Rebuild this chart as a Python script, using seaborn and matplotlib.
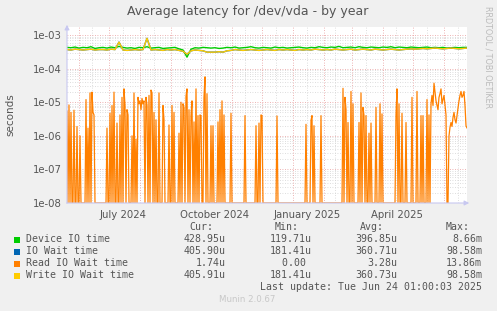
import numpy as np
import pandas as pd
import matplotlib
matplotlib.use("Agg")
import matplotlib.pyplot as plt
import matplotlib.dates as mdates
from matplotlib.patches import Rectangle
import seaborn as sns

# ---------------- data ----------------
start = pd.Timestamp("2024-05-20 01:00")
end = pd.Timestamp("2025-06-24 01:00")
n_days = 401

# device IO time / write IO wait sampled every 4 days (units 1e-4 s)
device_io = [4.3,4.2,4.4,4.1,4.3,4.2,4.5,4.0,4.2,4.3,4.1,4.4,4.2,4.6,4.3,4.1,4.2,4.0,4.3,4.2,
             4.5,4.1,4.2,4.3,4.0,4.1,4.2,4.3,3.9,3.6,2.2,3.8,4.2,4.1,4.3,4.2,4.1,4.2,4.0,4.1,
             4.3,4.2,4.4,4.1,4.2,4.3,4.5,4.2,4.1,4.3,4.2,4.1,4.4,4.2,4.3,4.1,4.2,4.3,4.4,4.2,
             4.1,4.3,4.2,4.5,4.3,4.2,4.4,4.3,4.6,4.2,4.3,4.4,4.2,4.5,4.3,4.2,4.4,4.3,4.2,4.4,
             4.3,4.5,4.2,4.4,4.3,4.2,4.4,4.3,4.2,4.3,4.4,4.2,4.3,4.2,4.3,4.1,4.2,4.3,4.2,4.3,4.3]
io_wait = [3.7,3.6,3.8,3.7,3.6,3.7,3.8,3.6,3.7,3.7,3.6,3.8,3.7,6.2,3.6,3.5,3.6,3.7,3.6,3.7,
           8.0,3.6,3.7,3.6,3.5,3.7,3.6,3.7,3.5,3.3,2.7,3.4,3.6,3.5,3.4,3.1,3.1,3.1,3.2,3.1,
           3.4,3.5,3.7,3.6,3.5,3.6,3.7,3.6,3.5,3.6,3.7,3.6,3.5,3.7,3.6,3.7,3.6,3.5,3.7,3.6,
           3.7,3.6,3.8,3.7,3.6,3.7,3.6,3.8,3.7,3.6,3.7,3.8,3.6,3.7,3.8,3.7,3.6,3.8,3.7,3.6,
           3.7,3.8,3.7,3.6,3.7,3.8,3.9,3.8,3.9,4.0,3.9,4.0,4.1,4.0,3.9,4.0,4.1,4.0,3.9,4.0,4.1]
write_wait = [3.7,3.6,3.8,3.7,3.6,3.7,3.8,3.6,3.7,3.7,3.6,3.8,3.7,6.2,3.6,3.5,3.6,3.7,3.6,3.7,
              8.0,3.6,3.7,3.6,3.5,3.7,3.6,3.7,3.5,3.3,2.7,3.4,3.6,3.5,3.4,3.1,3.1,3.1,3.2,3.1,
              3.4,3.5,3.7,3.6,3.5,3.6,3.7,3.6,3.5,3.6,3.7,3.6,3.5,3.7,3.6,3.7,3.6,3.5,3.7,3.6,
              3.7,3.6,3.8,3.7,3.6,3.7,3.6,3.8,3.7,3.6,3.7,3.8,3.6,3.7,3.8,3.7,3.6,3.8,3.7,3.6,
              3.7,3.8,3.7,3.6,3.7,3.8,3.9,3.8,3.9,4.0,3.9,4.0,4.1,4.0,3.9,4.0,4.1,4.0,3.9,4.0,4.1]

# read IO wait: nonzero days (day index from start) and values in seconds
read_days = [0,2,4,7,10,13,19,21,23,25,26,27,40,43,45,47,50,53,55,57,58,60,61,65,67,69,
             71,72,73,74,75,76,77,79,80,82,84,85,87,89,92,96,97,102,105,107,112,114,116,117,
             119,120,122,124,125,127,129,131,133,134,137,138,140,144,146,151,153,155,157,164,
             178,189,192,194,195,210,239,244,245,247,254,276,278,279,281,284,286,292,294,296,
             297,299,302,304,309,313,315,329,330,332,335,339,345,350,354,356,360,362,364,365,
             366,367,368,369,370,371,372,373,374,375,376,377,378,379,382,383,384,385,386,387,
             388,389,390,391,392,393,394,395,396,397,398,399,400]
read_vals = [5.5e-6,8.3e-6,5e-6,5.8e-6,1.9e-6,1e-6,1.2e-5,1.7e-6,1.9e-5,2e-5,5e-6,4.2e-6,
             1.7e-6,4.7e-6,8e-6,2e-5,2.4e-6,4.2e-6,1.4e-5,2.5e-5,8e-6,6e-6,4.2e-6,1e-6,1.9e-5,
             8e-7,1.4e-5,9e-6,1.1e-5,6e-6,1.3e-5,9e-6,1.1e-5,1.4e-5,8e-6,1.6e-5,2.3e-5,1.9e-5,
             5e-6,3e-6,1.9e-5,8e-6,3e-6,2.1e-6,8e-6,5e-6,1.2e-6,1e-5,9e-6,7e-6,1.5e-5,2.5e-5,
             6e-6,4e-6,1.1e-5,2.6e-6,2.5e-5,4e-6,4.2e-6,4e-6,1.4e-5,5.7e-5,1.8e-5,2e-6,2e-6,
             2.6e-6,6e-6,1.1e-5,4.2e-6,4.7e-6,4e-6,2e-6,2.4e-6,4.2e-6,4e-6,3.9e-6,2.2e-6,
             2.9e-6,4e-6,2e-6,4e-6,2.6e-5,1.4e-5,6e-6,2.5e-6,2.1e-5,9e-6,2.5e-6,1.9e-5,7e-6,
             4e-6,4e-6,1.2e-6,2.4e-6,7e-6,9e-6,4.5e-6,4.2e-6,2.5e-5,9e-6,4.7e-6,2.5e-6,1.4e-5,
             2.1e-5,4e-6,4e-6,1.2e-5,4.2e-6,9e-6,1.6e-5,8e-6,3.7e-5,2e-5,1.1e-5,8e-6,6e-6,
             1.4e-5,1.8e-5,2.5e-5,9e-6,1.2e-5,1.6e-5,8e-6,4.2e-6,1e-6,1.8e-6,2.5e-6,1.9e-6,
             3.5e-6,5e-6,3e-6,2.4e-6,4e-6,7e-6,1.1e-5,1.6e-5,2.1e-5,1.4e-5,1.6e-5,2.1e-5,8e-6,
             2e-6,1.7e-6]

series_names = ["Device IO time", "IO Wait time", "Read IO Wait time", "Write IO Wait time"]
series_colors = ["#00CC00", "#0066B3", "#FF8000", "#FFCC00"]
cur_vals = ["428.95u", "405.90u", "1.74u", "405.91u"]
min_vals = ["119.71u", "181.41u", "0.00 ", "181.41u"]
avg_vals = ["396.85u", "360.71u", "3.28u", "360.73u"]
max_vals = ["8.66m", "98.58m", "13.86m", "98.58m"]
ytick_vals = [1e-8, 1e-7, 1e-6, 1e-5, 1e-4, 1e-3]
ytick_labels = ["1e-08", "1e-07", "1e-06", "1e-05", "1e-04", "1e-03"]
xlabel_dates = ["2024-07-15", "2024-10-15", "2025-01-15", "2025-04-15"]
xlabel_texts = ["July 2024", "October 2024", "January 2025", "April 2025"]

# ---------------- build frames ----------------
t4 = start + pd.to_timedelta(np.arange(len(device_io)) * 4, unit="D")
coarse = pd.DataFrame({"t": t4,
                       "dev": np.array(device_io) * 1e-4,
                       "iow": np.array(io_wait) * 1e-4,
                       "wr": np.array(write_wait) * 1e-4})
read = np.zeros(n_days)
read[read_days] = read_vals
fine = pd.DataFrame({"t": start + pd.to_timedelta(np.arange(n_days), unit="D"),
                     "rd": np.clip(read, 1e-8, None)})

# ---------------- figure ----------------
W, H = 497, 311
sns.set_style("white")
plt.rcParams["font.family"] = ["DejaVu Sans"]
fig = plt.figure(figsize=(W / 100, H / 100), dpi=100, facecolor="#F0F0F0")

def fx(px):
    return px / W

def fy(py):
    return 1 - py / H

ax = fig.add_axes([fx(67), fy(203), 400 / W, 176 / H])
ax.set_facecolor("white")
ax.set_yscale("log")
ymin, ymax = 1e-8, 1.74e-3
ax.set_ylim(ymin, ymax)
ax.set_xlim(start, end)

# grid lines
grid_dot = (0, (1, 2))
for dec in range(-8, -2):
    base = 10.0 ** dec
    for m in range(2, 10):
        if base * m < ymax:
            ax.axhline(base * m, color="#d2d2d2", lw=0.6, ls=grid_dot, zorder=0)
for v in ytick_vals:
    ax.axhline(v, color="#e89a9a", lw=0.6, ls=grid_dot, zorder=0.5)
month_starts = pd.date_range("2024-06-01", "2025-06-01", freq="MS")
mid_months = month_starts - pd.Timedelta(days=17)
for d in list(mid_months) + [pd.Timestamp("2025-06-15")]:
    if start <= d <= end:
        ax.axvline(d, color="#d2d2d2", lw=0.6, ls=grid_dot, zorder=0)
for d in month_starts:
    ax.axvline(d, color="#e89a9a", lw=0.6, ls=grid_dot, zorder=0.5)

# series
sns.lineplot(data=coarse, x="t", y="dev", ax=ax, color=series_colors[0], lw=1.0, zorder=3)
sns.lineplot(data=coarse, x="t", y="iow", ax=ax, color=series_colors[1], lw=1.0, zorder=3)
sns.lineplot(data=fine, x="t", y="rd", ax=ax, color=series_colors[2], lw=0.9, zorder=3)
sns.lineplot(data=coarse, x="t", y="wr", ax=ax, color=series_colors[3], lw=1.0, zorder=3)

# axes styling
for s in ax.spines.values():
    s.set_visible(False)
ax.set_xlabel("")
ax.set_ylabel("seconds", color="#555555", fontsize=7.5)
ax.yaxis.set_label_coords(-0.13, 0.5)
ax.set_yticks(ytick_vals)
ax.set_yticklabels(ytick_labels)
ax.yaxis.set_minor_locator(matplotlib.ticker.NullLocator())
ax.tick_params(axis="y", length=2, width=0.6, color="#e89a9a", labelsize=7.3,
               labelcolor="#555555", pad=2)
ax.set_xticks([pd.Timestamp(d) for d in xlabel_dates])
ax.set_xticklabels(xlabel_texts)
ax.tick_params(axis="x", length=0, labelsize=7.3, labelcolor="#555555", pad=5)
ax.set_xticks(list(month_starts), minor=True)
ax.tick_params(axis="x", which="minor", length=2, width=0.6, color="#e89a9a")

# axis lines with arrows
axis_col = "#c8c8f0"
ax.annotate("", xy=(fx(472), fy(203)), xytext=(fx(64), fy(203)), xycoords="figure fraction",
            arrowprops=dict(arrowstyle="-|>", color=axis_col, lw=0.8, mutation_scale=7))
ax.annotate("", xy=(fx(67), fy(22)), xytext=(fx(67), fy(206)), xycoords="figure fraction",
            arrowprops=dict(arrowstyle="-|>", color=axis_col, lw=0.8, mutation_scale=7))

# title and side text
fig.text(fx(248), fy(12), "Average latency for /dev/vda - by year", ha="center", va="center",
         fontsize=9.0, color="#555555")
fig.text(fx(488), fy(6), "RRDTOOL / TOBI OETIKER", rotation=270, ha="center", va="top",
         fontsize=5.8, color="#bbbbbb")

# legend block
mono = "DejaVu Sans Mono"
fs = 7.1
tcol = "#555555"
hdr_y = 227.5
for txt, xr in [("Cur:", 213), ("Min:", 299), ("Avg:", 384), ("Max:", 470)]:
    fig.text(fx(xr), fy(hdr_y), txt, ha="right", va="center", family=mono, fontsize=fs, color=tcol)
row_y = [239.5, 251.5, 263.5, 275.5]
for i, name in enumerate(series_names):
    y = row_y[i]
    fig.patches.append(Rectangle((fx(14), fy(y + 3)), 6 / W, 6 / H, transform=fig.transFigure,
                                 facecolor=series_colors[i], edgecolor="none"))
    fig.text(fx(26), fy(y), name, ha="left", va="center", family=mono, fontsize=fs, color=tcol)
    fig.text(fx(226), fy(y), cur_vals[i], ha="right", va="center", family=mono, fontsize=fs, color=tcol)
    fig.text(fx(312), fy(y), min_vals[i], ha="right", va="center", family=mono, fontsize=fs, color=tcol)
    fig.text(fx(397), fy(y), avg_vals[i], ha="right", va="center", family=mono, fontsize=fs, color=tcol)
    fig.text(fx(482), fy(y), max_vals[i], ha="right", va="center", family=mono, fontsize=fs, color=tcol)
fig.text(fx(482), fy(287.5), "Last update: Tue Jun 24 01:00:03 2025", ha="right", va="center",
         family=mono, fontsize=fs, color=tcol)
fig.text(fx(247), fy(300), "Munin 2.0.67", ha="center", va="center", fontsize=6.2, color="#c8c8c8")

fig.savefig("out.png", dpi=100, facecolor=fig.get_facecolor())
